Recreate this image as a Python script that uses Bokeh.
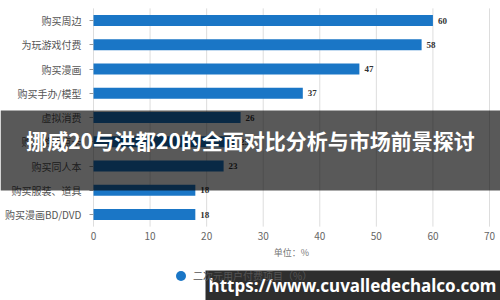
from bokeh.plotting import figure
from bokeh.models import (ColumnDataSource, Label, BoxAnnotation, LabelSet,
                          Legend, LegendItem, Range1d, FixedTicker, LinearAxis)
from bokeh.embed import file_html
from bokeh.resources import INLINE

categories = ["购买周边", "为玩游戏付费", "购买漫画", "购买手办/模型", "虚拟消费",
              "购买游戏点卡", "购买同人本", "购买服装、道具", "购买漫画BD/DVD"]
values = [60, 58, 47, 37, 26, 25, 23, 18, 18]
x_ticks = [0, 10, 20, 30, 40, 50, 60, 70]
series_name = "二次元用户付费项目（%）"
unit_text = "单位：%"
banner_text = "挪威20与洪都20的全面对比分析与市场前景探讨"
watermark_text = "https://www.cuvalledechalco.com"

CJK = "Noto Sans CJK SC"
BLUE = "#1a76c6"

n = len(categories)
rows = list(range(n))
src = ColumnDataSource(dict(row=rows, cat=categories, val=values,
                            lab=[str(v) for v in values]))

# frame spans the whole canvas; plot area 0..70 maps to x 93..489 px,
# rows 0..8 map to y 20..214 px (inverted range)
PX_X = 396 / 70.0
PX_Y = 24.25
p = figure(width=500, height=300, output_backend="svg", toolbar_location=None,
           x_range=Range1d(-93 / PX_X, 70 + 11 / PX_X),
           y_range=Range1d((n - 1) + 86 / PX_Y, -20 / PX_Y),
           x_axis_location=None, y_axis_location=None,
           min_border=0, min_border_left=0, min_border_right=0,
           min_border_top=0, min_border_bottom=0)
p.outline_line_color = None
p.background_fill_color = "white"
p.grid.visible = False
p.extra_x_ranges = {"px": Range1d(0, 500)}
p.extra_y_ranges = {"px": Range1d(300, 0)}

# vertical grid lines limited to the bar area
p.segment(x0=x_ticks, x1=x_ticks, y0=[-0.5] * len(x_ticks),
          y1=[n - 0.5] * len(x_ticks), line_color="#dddddd", line_width=1)

p.hbar(y="row", right="val", left=0, height=0.46, source=src,
       fill_color=BLUE, line_color=None)

p.add_layout(LabelSet(x="val", y="row", text="lab", source=src, x_offset=5,
                      text_font="DejaVu Sans", text_font_size="9px",
                      text_font_style="bold", text_color="#333333",
                      text_baseline="middle"))

# axes placed at fixed data locations (inside the full-canvas frame)
xaxis = LinearAxis(fixed_location=n - 0.5, ticker=FixedTicker(ticks=x_ticks),
                   bounds=(x_ticks[0], x_ticks[-1]))
xaxis.axis_line_color = None
xaxis.major_tick_line_color = None
xaxis.minor_tick_line_color = None
xaxis.major_tick_out = 0
xaxis.major_label_text_font = CJK
xaxis.major_label_text_font_size = "10px"
xaxis.major_label_text_color = "#666666"
xaxis.major_label_standoff = 5
xaxis.axis_label = unit_text
xaxis.axis_label_text_font = CJK
xaxis.axis_label_text_font_size = "9px"
xaxis.axis_label_text_font_style = "normal"
xaxis.axis_label_text_color = "#777777"
xaxis.axis_label_standoff = 3
p.add_layout(xaxis, "below")

yaxis = LinearAxis(fixed_location=0, ticker=FixedTicker(ticks=rows),
                   major_label_overrides={r: c for r, c in zip(rows, categories)})
yaxis.axis_line_color = None
yaxis.major_tick_line_color = "#999999"
yaxis.minor_tick_line_color = None
yaxis.major_tick_out = 4
yaxis.major_tick_in = 0
yaxis.major_label_text_font = CJK
yaxis.major_label_text_font_size = "10px"
yaxis.major_label_text_color = "#555555"
yaxis.major_label_standoff = 8
p.add_layout(yaxis, "left")

# legend (renderer holds one undrawn NaN point so the legend glyph renders)
dummy = p.scatter(x=[float("nan")], y=[float("nan")], marker="circle", size=10,
                  fill_color=BLUE, line_color=None)
legend = Legend(items=[LegendItem(label=series_name, renderers=[dummy])],
                location=(168, 12), border_line_color=None,
                background_fill_alpha=0, padding=0, margin=0,
                label_text_font=CJK, label_text_font_size="10px",
                label_text_color="#555555", glyph_width=25, glyph_height=25,
                label_standoff=0, label_height=25)
p.add_layout(legend, "center")

# banner overlay
p.add_layout(BoxAnnotation(left=0, right=500, top=110, bottom=190,
                           x_range_name="px", y_range_name="px",
                           fill_color="black", fill_alpha=0.65, line_color=None))
p.add_layout(Label(x=250, y=139, text=banner_text, text_font=CJK,
                   x_range_name="px", y_range_name="px",
                   text_font_size="21px", text_font_style="bold",
                   text_color="white", text_align="center",
                   text_baseline="middle"))

# watermark
p.add_layout(BoxAnnotation(left=205, right=500, top=270, bottom=300,
                           x_range_name="px", y_range_name="px",
                           fill_color="#1c1c1c", fill_alpha=0.92, line_color=None))
p.add_layout(Label(x=352, y=285, text=watermark_text, text_font="Noto Sans",
                   x_range_name="px", y_range_name="px",
                   text_font_size="17px", text_font_style="bold",
                   text_color="white", text_align="center",
                   text_baseline="middle"))

open("out.html", "w").write(file_html(p, INLINE))
